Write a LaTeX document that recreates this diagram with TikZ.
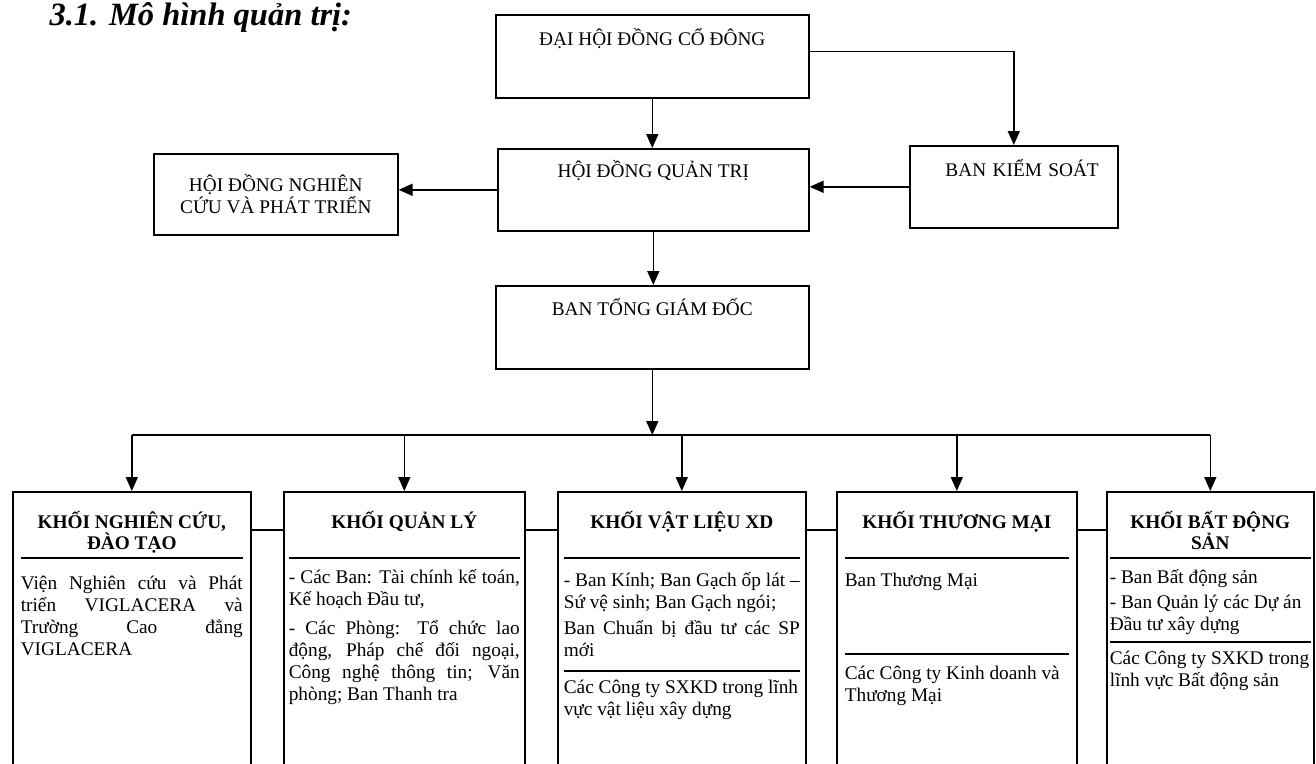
\documentclass[tikz,border=0pt]{standalone}
\usepackage{fontspec}
\setmainfont{Liberation Serif}
\usepackage{tikz}
\usetikzlibrary{positioning,arrows.meta}

% rule between two parts of a block
\newcommand{\khoirule}[2]{\par\vspace{#1}\hrule height 1.4pt\prevdepth=0pt\vspace{#2}}
% text of a block
\newcommand{\khoitext}[2]{\parbox[t]{#1}{\lineskiplimit=-100pt\fontsize{19.3}{22}\selectfont #2}}
\newcommand{\khoititle}[1]{{\centering\bfseries\fontsize{19.3}{21}\selectfont #1\strut\par}}

\begin{document}
\begin{tikzpicture}[x=1pt,y=-1pt,
  box/.style={draw, line width=1.6pt, anchor=north west, inner sep=0pt,
    font=\fontsize{19.3}{22}\selectfont},
  khoi/.style={draw, line width=1.6pt, anchor=north west, inner xsep=8pt,
    inner ysep=0pt, text height=37pt, text depth=300pt},
  arr/.style={line width=1.6pt, -{Triangle[length=14pt,width=12pt]}},
  link/.style={line width=1.6pt}]
  \useasboundingbox (0,0) rectangle (1316,763);
  \clip (0,0) rectangle (1316,763);

  \node[anchor=base west, font=\bfseries\itshape\fontsize{32.5}{34}\selectfont]
    (title) at (46,25) {3.1. Mô hình quản trị:};

  % upper level
  \node[box, minimum width=313pt, text height=31pt, text depth=52pt] (dhdcd) at (495,14) {ĐẠI HỘI ĐỒNG CỔ ĐÔNG};
  \node[box, minimum width=311pt, text height=29pt, text depth=53pt] (hdqt) at (497,148) {HỘI ĐỒNG QUẢN TRỊ};
  \node[box, minimum width=208pt, text height=31pt, text depth=51pt, text width=170pt, align=right] (bks) at (909,145) {BAN KIỂM SOÁT};
  \node[box, minimum width=244pt, minimum height=81pt, align=center] (hdnc) at (153,153) {HỘI ĐỒNG NGHIÊN\\ CỨU VÀ PHÁT TRIỂN};
  \node[box, minimum width=313pt, text height=30pt, text depth=53pt] (btgd) at (495,285) {BAN TỔNG GIÁM ĐỐC};

  % blocks
  \node[khoi] (khoi1) at (12,491) {\khoitext{222pt}{%
    \khoititle{KHỐI NGHIÊN CỨU,\\ ĐÀO TẠO}
    \khoirule{1.1pt}{8.4pt}
    Viện Nghiên cứu và Phát\linebreak triển VIGLACERA và\linebreak Trường Cao đẳng\linebreak VIGLACERA}};
  \node[khoi, inner xsep=5pt] (khoi2) at (283,491) {\khoitext{231pt}{%
    \khoititle{KHỐI QUẢN LÝ}
    \khoirule{22.1pt}{2.4pt}
    - Các Ban: Tài chính kế toán,\linebreak Kế hoạch Đầu tư,\par\vspace{7pt}
    - Các Phòng: Tổ chức lao\linebreak động, Pháp chế đối ngoại,\linebreak Công nghệ thông tin; Văn\linebreak phòng; Ban Thanh tra}};
  \node[khoi, inner xsep=6pt] (khoi3) at (557,491) {\khoitext{236pt}{%
    \khoititle{KHỐI VẬT LIỆU XD}
    \khoirule{22.1pt}{5.4pt}
    - Ban Kính; Ban Gạch ốp lát –\linebreak Sứ vệ sinh; Ban Gạch ngói;\par\vspace{4pt}
    Ban Chuẩn bị đầu tư các SP\linebreak mới\strut
    \khoirule{7.8pt}{0pt}
    Các Công ty SXKD trong lĩnh\\ vực vật liệu xây dựng}};
  \node[khoi] (khoi4) at (836,491) {\khoitext{224pt}{%
    \khoititle{KHỐI THƯƠNG MẠI}
    \khoirule{22.1pt}{5.4pt}
    Ban Thương Mại\strut
    \khoirule{60.8pt}{2.4pt}
    Các Công ty Kinh doanh và\\ Thương Mại}};
  \node[khoi, inner xsep=3pt] (khoi5) at (1106,491) {\khoitext{201pt}{%
    \khoititle{KHỐI BẤT ĐỘNG\\ SẢN}
    \khoirule{1.1pt}{2.4pt}
    - Ban Bất động sản\par\vspace{3pt}
    - Ban Quản lý các Dự án\\ Đầu tư xây dựng\strut
    \khoirule{4.8pt}{0pt}
    Các Công ty SXKD trong\\ lĩnh vực Bất động sản}};

  % connectors
  \draw[arr] (dhdcd.south) -- (dhdcd.south |- hdqt.north);
  \draw[arr] ([yshift=5pt]dhdcd.east) -| (bks.north);
  \draw[arr] (bks.west) -- (bks.west -| hdqt.east);
  \draw[arr] (hdqt.west) -- (hdqt.west -| hdnc.east);
  \draw[arr] (hdqt.south) -- (hdqt.south |- btgd.north);
  \coordinate (bus) at (651,435);
  \draw[arr] (btgd.south) -- (btgd.south |- bus);
  \draw[link] (khoi1.north |- bus) -- (khoi5.north |- bus);
  \foreach \k in {1,...,5}
    \draw[arr] (khoi\k.north |- bus) -- (khoi\k.north);
  \foreach \a/\b in {1/2,2/3,3/4,4/5}
    \draw[link] ([yshift=-39pt]khoi\a.north east) -- ([yshift=-39pt]khoi\b.north west);
\end{tikzpicture}
\end{document}
